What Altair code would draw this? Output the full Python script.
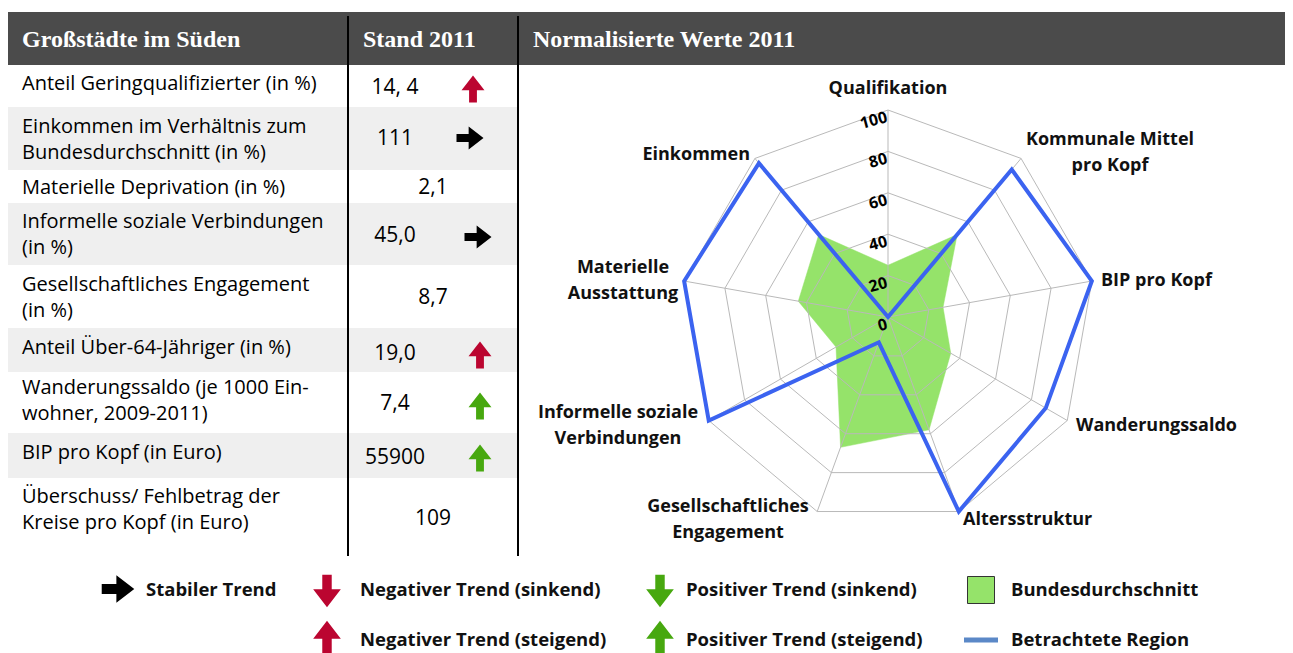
import altair as alt
import pandas as pd

# ------------------------------------------------------------------ data
row_labels = [
    "Anteil Geringqualifizierter (in %)",
    "Einkommen im Verhältnis zum\nBundesdurchschnitt (in %)",
    "Materielle Deprivation (in %)",
    "Informelle soziale Verbindungen\n(in %)",
    "Gesellschaftliches Engagement\n(in %)",
    "Anteil Über-64-Jähriger (in %)",
    "Wanderungssaldo (je 1000 Ein-\nwohner, 2009-2011)",
    "BIP pro Kopf (in Euro)",
    "Überschuss/ Fehlbetrag der\nKreise pro Kopf (in Euro)",
]
row_values = ["14, 4", "111", "2,1", "45,0", "8,7", "19,0", "7,4", "55900", "109"]
row_trends = ["neg_up", "stable", "", "stable", "", "neg_up", "pos_up", "pos_up", ""]

radar_axes = [
    "Qualifikation",
    "Kommunale Mittel\npro Kopf",
    "BIP pro Kopf",
    "Wanderungssaldo",
    "Altersstruktur",
    "Gesellschaftliches\nEngagement",
    "Informelle soziale\nVerbindungen",
    "Materielle\nAusstattung",
    "Einkommen",
]
bundesdurchschnitt = [25, 52, 27, 35, 58, 67, 29, 44, 52]
betrachtete_region = [0, 93, 100, 88, 100, 13, 100, 100, 97]
radar_ticks = [0, 20, 40, 60, 80, 100]

header_titles = ["Großstädte im Süden", "Stand 2011", "Normalisierte Werte 2011"]

legend_kinds = ["stable", "neg_down", "neg_up", "pos_down", "pos_up"]
legend_texts = [
    "Stabiler Trend",
    "Negativer Trend (sinkend)",
    "Negativer Trend (steigend)",
    "Positiver Trend (sinkend)",
    "Positiver Trend (steigend)",
]
series_names = ["Bundesdurchschnitt", "Betrachtete Region"]

# ------------------------------------------------------------------ layout (page pixels)
W, H = 1277, 645
XS = alt.Scale(domain=[8, 8 + W], nice=False, zero=False)
YS = alt.Scale(domain=[8, 8 + H], nice=False, zero=False, reverse=True)

HEADER_DARK = "#4b4b4b"
ROW_GRAY = "#efefef"
RED = "#bb0530"
GREEN = "#47a80f"
FILL_GREEN = "#95e36a"
LINE_BLUE = "#3b63f0"
LEG_BLUE = "#5b88c7"
GRID = "#b9b9b9"
SANS = "Open Sans"
SERIF = "Liberation Serif"
LH = 26  # line height of two-line labels

header_box = dict(x=8, x2=1285, y=12, y2=65)
header_text_x = [22, 363, 533]
header_text_y = 40
row_bounds = [65, 107, 170, 203, 265, 328, 372, 433, 478, 556]
table_x = [8, 518]
col_lines_x = [348, 518]
col_lines_y = [16, 556]
label_x = 22
label_y = [84, 140, 188, 235, 298, 348, 401, 453, 510]
value_y = [88, 139, 188, 236, 298, 354, 404, 458, 519]
value_x_with_arrow = 395
value_x_plain = 433
arrow_x = [473, 470, 0, 478, 0, 480, 480, 480, 0]
arrow_y = [89, 138, 0, 237, 0, 355, 406, 458, 0]

CX, CY, R = 888, 317, 207
axis_label_pos = [
    (888, 89, "center"), (1110, 153, "center"), (1101, 281, "left"),
    (1076, 426, "left"), (963, 520, "left"), (728, 520, "center"),
    (618, 426, "center"), (623, 281, "center"), (750, 155, "right"),
]

legend_sym_pos = [(118, 589), (327, 591), (327, 637), (660, 591), (660, 637)]
legend_txt_pos = [(146, 590), (360, 590), (360, 640), (686, 590), (686, 640)]
square_pos = (981, 590)
series_txt_pos = [(1011, 590), (1011, 640)]
blue_rule = dict(x=964, x2=998, y=640)

# arrow glyphs (table: slimmer; legend: larger)
T_UP = "M0,-1L0.85,0.1L0.29,0.1L0.29,1L-0.29,1L-0.29,0.1L-0.85,0.1Z"
T_DOWN = "M0,1L0.85,-0.1L0.29,-0.1L0.29,-1L-0.29,-1L-0.29,-0.1L-0.85,-0.1Z"
T_RIGHT = "M1,0L-0.1,-0.85L-0.1,-0.3L-1,-0.3L-1,0.3L-0.1,0.3L-0.1,0.85Z"
L_UP = "M0,-1L1,0.1L0.37,0.1L0.37,1L-0.37,1L-0.37,0.1L-1,0.1Z"
L_DOWN = "M0,1L1,-0.1L0.37,-0.1L0.37,-1L-0.37,-1L-0.37,-0.1L-1,-0.1Z"
L_RIGHT = "M1,0L-0.2,-1L-0.2,-0.4L-1,-0.4L-1,0.4L-0.2,0.4L-0.2,1Z"
table_shapes = alt.Scale(domain=legend_kinds, range=[T_RIGHT, T_DOWN, T_UP, T_DOWN, T_UP])
legend_shapes = alt.Scale(domain=legend_kinds, range=[L_RIGHT, L_DOWN, L_UP, L_DOWN, L_UP])
kind_colors = alt.Scale(domain=legend_kinds, range=["#000000", RED, RED, GREEN, GREEN])


def X(f, **kw):
    return alt.X(f, type="quantitative", scale=XS, axis=None, **kw)


def Y(f, **kw):
    return alt.Y(f, type="quantitative", scale=YS, axis=None, **kw)


def first_line_y(text, center):
    # Vega places the first line at y; shift so the block is centred on `center`
    return center - (text.count("\n")) * LH / 2


# ------------------------------------------------------------------ table
header_df = pd.DataFrame([header_box])
header = alt.Chart(header_df).mark_rect(color=HEADER_DARK).encode(
    x=X("x"), x2="x2", y=Y("y"), y2="y2")

header_txt_df = pd.DataFrame({"t": header_titles, "x": header_text_x, "y": header_text_y})
header_txt = alt.Chart(header_txt_df).mark_text(
    align="left", baseline="middle", font=SERIF, fontSize=24, fontWeight="bold", color="white"
).encode(x=X("x"), y=Y("y"), text="t:N")

gray_df = pd.DataFrame({
    "y": row_bounds[:-1], "y2": row_bounds[1:], "x": table_x[0], "x2": table_x[1],
    "k": list(range(len(row_labels))),
})
gray_df = gray_df[gray_df.k % 2 == 1]
gray_rows = alt.Chart(gray_df).mark_rect(color=ROW_GRAY).encode(
    x=X("x"), x2="x2", y=Y("y"), y2="y2")

lines_df = pd.DataFrame({"x": col_lines_x, "y": col_lines_y[0], "y2": col_lines_y[1]})
col_lines = alt.Chart(lines_df).mark_rule(color="black", strokeWidth=2).encode(
    x=X("x"), y=Y("y"), y2="y2")

rows_df = pd.DataFrame({
    "label": row_labels, "value": row_values, "trend": row_trends,
    "vy": value_y, "ax": arrow_x, "ay": arrow_y,
})
rows_df["ly"] = [first_line_y(t, c) for t, c in zip(row_labels, label_y)]
rows_df["lx"] = label_x
rows_df["vx"] = [value_x_with_arrow if t else value_x_plain for t in row_trends]

labels = alt.Chart(rows_df).mark_text(
    align="left", baseline="middle", font=SANS, fontSize=20, lineBreak="\n", lineHeight=LH, color="black"
).encode(x=X("lx"), y=Y("ly"), text="label:N")

values = alt.Chart(rows_df).mark_text(
    align="center", baseline="middle", font=SANS, fontSize=21, color="black"
).encode(x=X("vx"), y=Y("vy"), text="value:N")

arrows = alt.Chart(rows_df[rows_df.trend != ""]).mark_point(
    filled=True, size=729, opacity=1, strokeWidth=0
).encode(
    x=X("ax"), y=Y("ay"),
    shape=alt.Shape("trend:N", scale=table_shapes, legend=None),
    color=alt.Color("trend:N", scale=kind_colors, legend=None),
)

# ------------------------------------------------------------------ radar
radar_df = pd.DataFrame({
    "i": list(range(len(radar_axes))), "axis": radar_axes,
    "bund": bundesdurchschnitt, "region": betrachtete_region,
})
N = len(radar_axes)
ANG = f"datum.i*2*PI/{N}"


def polar(field):
    return dict(
        px=f"{CX} + {R}*datum.{field}/100*sin({ANG})",
        py=f"{CY} - {R}*datum.{field}/100*cos({ANG})",
    )


green = alt.Chart(radar_df).transform_calculate(**polar("bund")).mark_line(
    interpolate="linear-closed", fill=FILL_GREEN, stroke=FILL_GREEN, strokeWidth=0.5
).encode(x=X("px:Q"), y=Y("py:Q"), order="i:Q")

rings_df = pd.DataFrame(
    [{"i": i, "lvl": lvl} for lvl in radar_ticks[1:] for i in range(N)]
)
rings = alt.Chart(rings_df).transform_calculate(**polar("lvl")).mark_line(
    interpolate="linear-closed", color=GRID, strokeWidth=1
).encode(x=X("px:Q"), y=Y("py:Q"), order="i:Q", detail="lvl:N")

spokes_df = pd.DataFrame({"i": list(range(N)), "full": 100})
spokes = alt.Chart(spokes_df).transform_calculate(
    **polar("full"), cx=f"{CX}", cy=f"{CY}"
).mark_rule(color=GRID, strokeWidth=1).encode(
    x=X("cx:Q"), y=Y("cy:Q"), x2="px:Q", y2="py:Q")

blue = alt.Chart(radar_df).transform_calculate(**polar("region")).mark_line(
    interpolate="linear-closed", color=LINE_BLUE, strokeWidth=4
).encode(x=X("px:Q"), y=Y("py:Q"), order="i:Q")

ticks_df = pd.DataFrame({"lvl": radar_ticks, "t": [str(v) for v in radar_ticks]})
tick_labels = alt.Chart(ticks_df).transform_calculate(
    tx=f"{CX} - 1", ty=f"{CY} - {R}*datum.lvl/100 + 7"
).mark_text(
    align="right", baseline="middle", font=SANS, fontSize=16, fontWeight="bold", angle=345, color="black"
).encode(x=X("tx:Q"), y=Y("ty:Q"), text="t:N")

axis_lab_df = pd.DataFrame({
    "t": radar_axes,
    "x": [p[0] for p in axis_label_pos],
    "y": [first_line_y(t, p[1]) for t, p in zip(radar_axes, axis_label_pos)],
    "a": [p[2] for p in axis_label_pos],
})


def axis_labels(al):
    return alt.Chart(axis_lab_df[axis_lab_df.a == al]).mark_text(
        align=al, baseline="middle", font=SANS, fontSize=18, fontWeight="bold",
        lineBreak="\n", lineHeight=LH, color="#111111"
    ).encode(x=X("x"), y=Y("y"), text="t:N")


# ------------------------------------------------------------------ legend
leg_df = pd.DataFrame({
    "kind": legend_kinds, "text": legend_texts,
    "sx": [p[0] for p in legend_sym_pos], "sy": [p[1] for p in legend_sym_pos],
    "tx": [p[0] for p in legend_txt_pos], "ty": [p[1] for p in legend_txt_pos],
})
leg_syms = alt.Chart(leg_df).mark_point(filled=True, size=1060, opacity=1, strokeWidth=0).encode(
    x=X("sx"), y=Y("sy"),
    shape=alt.Shape("kind:N", scale=legend_shapes, legend=None),
    color=alt.Color("kind:N", scale=kind_colors, legend=None),
)
leg_txt = alt.Chart(leg_df).mark_text(
    align="left", baseline="middle", font=SANS, fontSize=18.5, fontWeight="bold", color="#111111"
).encode(x=X("tx"), y=Y("ty"), text="text:N")

ser_df = pd.DataFrame({
    "text": series_names,
    "tx": [p[0] for p in series_txt_pos], "ty": [p[1] for p in series_txt_pos],
})
ser_txt = alt.Chart(ser_df).mark_text(
    align="left", baseline="middle", font=SANS, fontSize=18.5, fontWeight="bold", color="#111111"
).encode(x=X("tx"), y=Y("ty"), text="text:N")

sq_df = pd.DataFrame({"x": [square_pos[0]], "y": [square_pos[1]]})
square = alt.Chart(sq_df).mark_point(
    shape="square", filled=True, fill=FILL_GREEN, stroke="#333333", strokeWidth=1, size=729, opacity=1
).encode(x=X("x"), y=Y("y"))

br_df = pd.DataFrame([blue_rule])
leg_blue = alt.Chart(br_df).mark_rule(color=LEG_BLUE, strokeWidth=5).encode(
    x=X("x"), x2="x2", y=Y("y"))

chart = alt.layer(
    header, gray_rows, col_lines, header_txt, labels, values, arrows,
    green, rings, spokes, blue, tick_labels,
    axis_labels("center"), axis_labels("left"), axis_labels("right"),
    leg_syms, leg_txt, ser_txt, square, leg_blue,
).properties(
    width=W, height=H, padding=0, autosize="none", background="white"
).configure_view(stroke=None)

chart.save("out.html", embed_options={"renderer": "svg", "actions": False})
